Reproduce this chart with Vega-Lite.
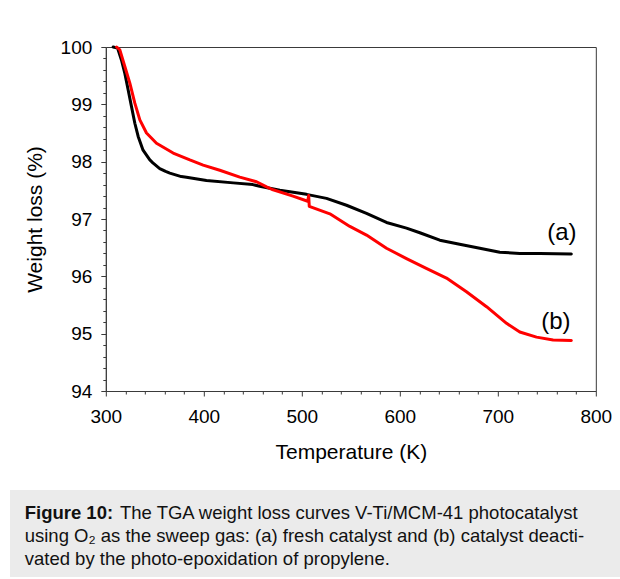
{
  "$schema": "https://vega.github.io/schema/vega-lite/v6.json",
  "background": "white",
  "padding": {"left": 10, "top": 37, "right": 0, "bottom": 0},
  "spacing": 27,
  "center": true,
  "bounds": "full",
  "config": {
    "font": "Liberation Sans",
    "axis": {"grid": false, "labelColor": "#000000", "titleColor": "#000000", "domainColor": "#3a3a3a", "tickColor": "#3a3a3a", "titleFontWeight": "normal", "labelOverlap": false}
  },
  "vconcat": [
    {
      "width": 490,
      "height": 344,
      "view": {"stroke": "#3a3a3a", "strokeWidth": 1},
      "data": {"values": [
        {"series": "(a)", "T": 307.5, "weight": 100.0},
        {"series": "(a)", "T": 312, "weight": 99.98},
        {"series": "(a)", "T": 316, "weight": 99.77},
        {"series": "(a)", "T": 319.4, "weight": 99.54},
        {"series": "(a)", "T": 322.8, "weight": 99.25},
        {"series": "(a)", "T": 326.2, "weight": 98.96},
        {"series": "(a)", "T": 329.6, "weight": 98.67},
        {"series": "(a)", "T": 333, "weight": 98.44},
        {"series": "(a)", "T": 338, "weight": 98.2},
        {"series": "(a)", "T": 344.9, "weight": 98.03},
        {"series": "(a)", "T": 348, "weight": 97.98},
        {"series": "(a)", "T": 355, "weight": 97.88},
        {"series": "(a)", "T": 361, "weight": 97.83},
        {"series": "(a)", "T": 365.3, "weight": 97.8},
        {"series": "(a)", "T": 377, "weight": 97.74},
        {"series": "(a)", "T": 382.3, "weight": 97.73},
        {"series": "(a)", "T": 402.7, "weight": 97.67},
        {"series": "(a)", "T": 430, "weight": 97.63},
        {"series": "(a)", "T": 450, "weight": 97.6},
        {"series": "(a)", "T": 457, "weight": 97.57},
        {"series": "(a)", "T": 477.6, "weight": 97.5},
        {"series": "(a)", "T": 504.8, "weight": 97.43},
        {"series": "(a)", "T": 525.2, "weight": 97.36},
        {"series": "(a)", "T": 545.6, "weight": 97.24},
        {"series": "(a)", "T": 566, "weight": 97.1},
        {"series": "(a)", "T": 586.4, "weight": 96.94},
        {"series": "(a)", "T": 606.8, "weight": 96.84},
        {"series": "(a)", "T": 620.4, "weight": 96.76},
        {"series": "(a)", "T": 640.8, "weight": 96.63},
        {"series": "(a)", "T": 661, "weight": 96.56},
        {"series": "(a)", "T": 681.6, "weight": 96.49},
        {"series": "(a)", "T": 702, "weight": 96.42},
        {"series": "(a)", "T": 722.4, "weight": 96.4},
        {"series": "(a)", "T": 743, "weight": 96.4},
        {"series": "(a)", "T": 775, "weight": 96.39},
        {"series": "(b)", "T": 311, "weight": 100.0},
        {"series": "(b)", "T": 314.3, "weight": 99.95},
        {"series": "(b)", "T": 319.4, "weight": 99.66},
        {"series": "(b)", "T": 324.5, "weight": 99.37},
        {"series": "(b)", "T": 329.6, "weight": 99.02},
        {"series": "(b)", "T": 334.7, "weight": 98.73},
        {"series": "(b)", "T": 341.5, "weight": 98.5},
        {"series": "(b)", "T": 351.7, "weight": 98.32},
        {"series": "(b)", "T": 368.7, "weight": 98.15},
        {"series": "(b)", "T": 385.7, "weight": 98.03},
        {"series": "(b)", "T": 399.3, "weight": 97.94},
        {"series": "(b)", "T": 416.3, "weight": 97.85},
        {"series": "(b)", "T": 436.7, "weight": 97.73},
        {"series": "(b)", "T": 453.8, "weight": 97.65},
        {"series": "(b)", "T": 464, "weight": 97.56},
        {"series": "(b)", "T": 470.7, "weight": 97.51},
        {"series": "(b)", "T": 491, "weight": 97.4},
        {"series": "(b)", "T": 506, "weight": 97.31},
        {"series": "(b)", "T": 507, "weight": 97.41},
        {"series": "(b)", "T": 507.6, "weight": 97.22},
        {"series": "(b)", "T": 528.6, "weight": 97.09},
        {"series": "(b)", "T": 549, "weight": 96.87},
        {"series": "(b)", "T": 566, "weight": 96.72},
        {"series": "(b)", "T": 586.4, "weight": 96.49},
        {"series": "(b)", "T": 606.8, "weight": 96.31},
        {"series": "(b)", "T": 627, "weight": 96.14},
        {"series": "(b)", "T": 647.6, "weight": 95.97},
        {"series": "(b)", "T": 668, "weight": 95.73},
        {"series": "(b)", "T": 688.5, "weight": 95.47},
        {"series": "(b)", "T": 708.9, "weight": 95.18},
        {"series": "(b)", "T": 722.4, "weight": 95.03},
        {"series": "(b)", "T": 739.5, "weight": 94.94},
        {"series": "(b)", "T": 756.4, "weight": 94.89},
        {"series": "(b)", "T": 775, "weight": 94.88}
      ]},
      "layer": [
        {
          "mark": {"type": "line", "strokeWidth": 3, "strokeJoin": "round", "strokeCap": "round"},
          "encoding": {
            "x": {"field": "T", "type": "quantitative",
              "scale": {"domain": [300, 800], "nice": false, "zero": false},
              "axis": {"title": "Temperature (K)", "tickCount": 200,
                "values": [300, 320, 340, 360, 380, 400, 420, 440, 460, 480, 500, 520, 540, 560, 580, 600, 620, 640, 660, 680, 700, 720, 740, 760, 780, 800],
                "labelExpr": "datum.value % 100 === 0 ? format(datum.value, 'd') : ''",
                "labelOverlap": false,
                "tickSize": {"condition": {"test": "datum.value % 100 === 0", "value": 5}, "value": 3},
                "labelPadding": 11, "labelFlush": false, "labelFontSize": 19, "titleFontSize": 21, "titlePadding": 15}},
            "y": {"field": "weight", "type": "quantitative",
              "scale": {"domain": [94, 100], "nice": false, "zero": false},
              "axis": {"title": "Weight loss (%)", "tickCount": 200,
                "values": [94, 94.2, 94.4, 94.6, 94.8, 95, 95.2, 95.4, 95.6, 95.8, 96, 96.2, 96.4, 96.6, 96.8, 97, 97.2, 97.4, 97.6, 97.8, 98, 98.2, 98.4, 98.6, 98.8, 99, 99.2, 99.4, 99.6, 99.8, 100],
                "labelExpr": "abs(datum.value - round(datum.value)) < 0.001 ? format(datum.value, 'd') : ''",
                "labelOverlap": false,
                "tickSize": {"condition": {"test": "abs(datum.value - round(datum.value)) < 0.001", "value": 5}, "value": 3},
                "labelPadding": 9, "labelFontSize": 19, "titleFontSize": 21, "titlePadding": 15}},
            "color": {"field": "series", "type": "nominal", "scale": {"domain": ["(a)", "(b)"], "range": ["#000000", "#ff0000"]}, "legend": null}
          }
        },
        {
          "transform": [
            {"joinaggregate": [{"op": "max", "field": "T", "as": "Tmax"}], "groupby": ["series"]},
            {"filter": "datum.T === datum.Tmax && datum.series === '(a)'"}
          ],
          "mark": {"type": "text", "fontSize": 24, "align": "center", "baseline": "middle", "dx": -9.5, "dy": -21, "color": "#000000"},
          "encoding": {
            "x": {"field": "T", "type": "quantitative"},
            "y": {"field": "weight", "type": "quantitative"},
            "text": {"field": "series"}
          }
        },
        {
          "transform": [
            {"joinaggregate": [{"op": "max", "field": "T", "as": "Tmax"}], "groupby": ["series"]},
            {"filter": "datum.T === datum.Tmax && datum.series === '(b)'"}
          ],
          "mark": {"type": "text", "fontSize": 24, "align": "center", "baseline": "middle", "dx": -15.5, "dy": -18.5, "color": "#000000"},
          "encoding": {
            "x": {"field": "T", "type": "quantitative"},
            "y": {"field": "weight", "type": "quantitative"},
            "text": {"field": "series"}
          }
        }
      ]
    },
    {
      "width": 698,
      "height": 87,
      "view": {"fill": "#ebebeb", "stroke": null},
      "data": {"values": [
        {"line": 1, "place": "line start", "role": "label", "text": "Figure 10:"},
        {"line": 1, "place": "after label", "role": "body", "text": "The TGA weight loss curves V-Ti/MCM-41 photocatalyst"},
        {"line": 2, "place": "line start", "role": "body", "text": "using O₂ as the sweep gas: (a) fresh catalyst and (b) catalyst deacti-"},
        {"line": 3, "place": "line start", "role": "body", "text": "vated by the photo-epoxidation of propylene."}
      ]},
      "encoding": {
        "x": {"field": "place", "type": "nominal", "scale": {"type": "point", "domain": ["line start", "after label"], "range": [14.7, 110], "padding": 0}, "axis": null},
        "y": {"field": "line", "type": "ordinal", "scale": {"type": "point", "domain": [1, 2, 3], "range": [23, 69], "padding": 0}, "axis": null},
        "text": {"field": "text"}
      },
      "layer": [
        {
          "transform": [{"filter": "datum.role === 'label'"}],
          "mark": {"type": "text", "align": "left", "baseline": "middle", "fontSize": 18.5, "fontWeight": "bold", "color": "#111111"}
        },
        {
          "transform": [{"filter": "datum.role === 'body'"}],
          "mark": {"type": "text", "align": "left", "baseline": "middle", "fontSize": 18.5, "color": "#111111"}
        }
      ]
    }
  ]
}
